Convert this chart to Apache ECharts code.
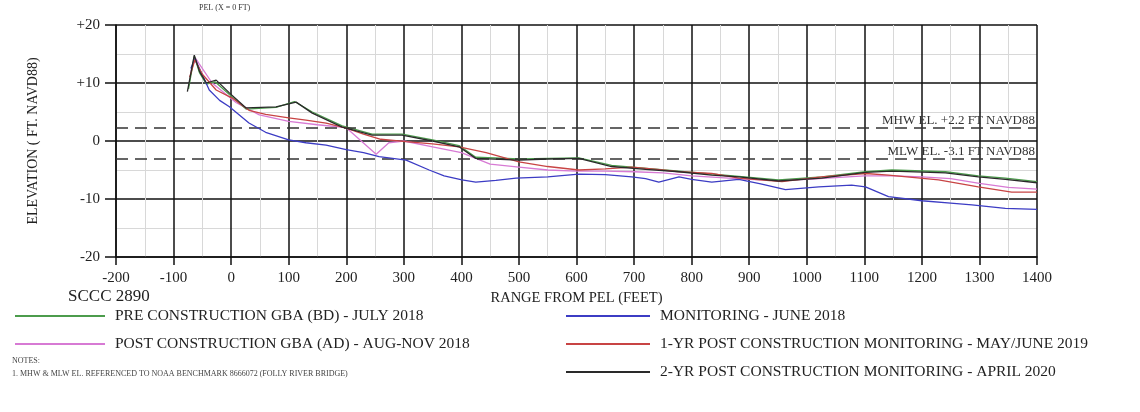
<!DOCTYPE html>
<html>
<head>
<meta charset="utf-8">
<script src="https://cdn.jsdelivr.net/npm/echarts@6/dist/echarts.min.js"></script>
<style>
  html, body { margin: 0; padding: 0; background: #fff; }
  #chart { width: 1140px; height: 412px; }
</style>
</head>
<body>
<div id="chart"></div>
<script>
// Beach profile SCCC 2890: elevation (ft NAVD88) vs range from PEL (ft)
const xTicks = [-200, 1400, 100];
const yTickLabels = { '20': '+20', '10': '+10', '0': '0', '-10': '-10', '-20': '-20' };

const preConstruction = [
  [-74, 9], [-64, 14.6], [-55, 11.8], [-43, 9.8], [-28, 10.2], [-3, 8], [26, 5.5], [78, 5.8],
  [110, 6.8], [141, 5], [193, 2.6], [245, 1.2], [297, 1.2], [350, 0.2], [396, -0.8], [425, -2.8],
  [500, -3.1], [604, -2.9], [661, -4.2], [778, -5.2], [882, -6.1], [951, -6.7], [1026, -6.2],
  [1102, -5.3], [1148, -5], [1241, -5.3], [1298, -6], [1345, -6.4], [1400, -7]
];
const postConstruction = [
  [-70, 12], [-62, 14.3], [-56, 13.4], [-33, 10], [9, 6.6], [49, 4.5], [100, 3.4], [150, 2.8],
  [200, 2.3], [252, -2.3], [274, -0.3], [300, 0], [350, -1], [400, -2], [450, -4], [500, -4.5],
  [550, -5], [600, -5.2], [650, -5.2], [700, -5.3], [750, -5.5], [800, -6], [850, -6.3], [900, -6.6],
  [950, -6.8], [1000, -6.6], [1050, -6.3], [1100, -6], [1150, -6], [1200, -6.2], [1250, -6.5],
  [1300, -7.3], [1350, -8], [1400, -8.3]
];
const monitoring2018 = [
  [-70, 12.5], [-63, 14.2], [-55, 12.5], [-38, 8.8], [-20, 7], [-3, 5.9], [31, 3.1], [60, 1.5],
  [100, 0.2], [130, -0.3], [165, -0.7], [200, -1.5], [230, -2], [257, -2.7], [304, -3.3], [344, -5],
  [370, -6], [401, -6.7], [425, -7.1], [460, -6.8], [495, -6.4], [550, -6.2], [604, -5.7], [650, -5.8],
  [696, -6.2], [720, -6.5], [743, -7.1], [778, -6.2], [800, -6.6], [835, -7.1], [882, -6.6], [920, -7.4],
  [963, -8.4], [1021, -7.9], [1078, -7.6], [1102, -7.9], [1142, -9.6], [1200, -10.3], [1250, -10.7],
  [1287, -11], [1345, -11.6], [1400, -11.8]
];
const monitoring2019 = [
  [-72, 11], [-63, 14], [-50, 11.5], [-26, 8.8], [2, 7.4], [31, 5.3], [60, 4.6], [100, 4], [130, 3.6],
  [165, 3.1], [200, 2.2], [230, 1.2], [260, 0.3], [304, -0.1], [350, -0.5], [396, -1], [443, -2],
  [500, -3.6], [550, -4.4], [604, -5], [650, -4.8], [696, -4.5], [740, -4.9], [778, -5.3], [835, -5.6],
  [882, -6.4], [957, -7], [1026, -6.2], [1102, -5.6], [1142, -5.9], [1229, -6.7], [1298, -7.9],
  [1356, -8.8], [1400, -8.8]
];
const monitoring2020 = [
  [-76, 8.5], [-64, 14.8], [-55, 12], [-43, 10], [-26, 10.5], [-3, 8.3], [26, 5.7], [78, 5.9],
  [113, 6.7], [141, 4.8], [193, 2.4], [245, 1], [297, 1], [350, 0], [396, -1], [425, -3], [500, -3.3],
  [550, -3.1], [604, -3], [661, -4.4], [720, -4.9], [778, -5.3], [835, -5.9], [882, -6.2], [951, -6.9],
  [1026, -6.4], [1102, -5.4], [1148, -5.2], [1241, -5.5], [1298, -6.2], [1345, -6.6], [1400, -7.2]
];
const tideLevels = [
  { name: 'MHW EL. +2.2 FT NAVD88', value: 2.2 },
  { name: 'MLW EL. -3.1 FT NAVD88', value: -3.1 }
];

const seriesNames = [
  'PRE CONSTRUCTION GBA (BD) - JULY 2018',
  'POST CONSTRUCTION GBA (AD) - AUG-NOV 2018',
  'MONITORING - JUNE 2018',
  '1-YR POST CONSTRUCTION MONITORING - MAY/JUNE 2019',
  '2-YR POST CONSTRUCTION MONITORING - APRIL 2020'
];

const FONT = '"Liberation Serif", "DejaVu Serif", serif';
const chart = echarts.init(document.getElementById('chart'), null, { renderer: 'canvas' });

function lineSeries(name, data, color, z, extra) {
  return Object.assign({
    type: 'line', name: name, data: data, symbol: 'none', z: z,
    lineStyle: { color: color, width: 1.3 }, itemStyle: { color: color },
    animation: false
  }, extra || {});
}

const legendText = { fontFamily: FONT, fontSize: 15.5, color: '#222', lineHeight: 14, padding: [0, 0, 0, 5] };

chart.setOption({
  backgroundColor: '#fff',
  animation: false,
  grid: { left: 116, right: 103, top: 25, bottom: 155 },
  legend: [
    {
      data: [seriesNames[0], seriesNames[1]],
      orient: 'vertical', left: 10, top: 303, itemWidth: 90, itemHeight: 2,
      itemGap: 12, icon: 'rect', textStyle: legendText, selectedMode: false
    },
    {
      data: [seriesNames[2], seriesNames[3], seriesNames[4]],
      orient: 'vertical', left: 561, top: 303, itemWidth: 84, itemHeight: 2,
      itemGap: 12, icon: 'rect', textStyle: legendText, selectedMode: false
    }
  ],
  xAxis: {
    type: 'value', min: xTicks[0], max: xTicks[1], interval: xTicks[2],
    name: 'RANGE FROM PEL (FEET)', nameLocation: 'middle', nameGap: 30,
    nameTextStyle: { fontFamily: FONT, fontSize: 14.5, color: '#222' },
    axisLine: { show: true, onZero: false, lineStyle: { color: '#111', width: 1.5 } },
    axisTick: { show: true, length: 8, inside: false, lineStyle: { color: '#111', width: 1.5 } },
    axisLabel: { fontFamily: FONT, fontSize: 15, color: '#222', margin: 14, formatter: v => String(v) },
    splitLine: { show: true, lineStyle: { color: '#111', width: 1.5 } },
    minorTick: { show: false, splitNumber: 2 },
    minorSplitLine: { show: true, lineStyle: { color: '#d8d8d8', width: 1 } }
  },
  yAxis: {
    type: 'value', min: -20, max: 20, interval: 10,
    name: 'ELEVATION ( FT. NAVD88)', nameLocation: 'middle', nameGap: 76, nameRotate: 90,
    nameTextStyle: { fontFamily: FONT, fontSize: 14, color: '#222' },
    axisLine: { show: true, onZero: false, lineStyle: { color: '#111', width: 1.5 } },
    axisTick: { show: true, length: 11, inside: false, lineStyle: { color: '#111', width: 1.5 } },
    axisLabel: {
      fontFamily: FONT, fontSize: 15, color: '#222', margin: 16,
      formatter: v => yTickLabels[String(v)] ?? String(v)
    },
    splitLine: { show: true, lineStyle: { color: '#111', width: 1.5 } },
    minorTick: { show: false, splitNumber: 2 },
    minorSplitLine: { show: true, lineStyle: { color: '#d8d8d8', width: 1 } }
  },
  series: [
    lineSeries(seriesNames[1], postConstruction, '#d77ad4', 3, {
      markLine: {
        silent: true, symbol: 'none', animation: false,
        lineStyle: { color: '#333', type: [12, 7], width: 1.5 },
        label: {
          show: true, position: 'insideEndTop', distance: [2, 1],
          fontFamily: FONT, fontSize: 13, color: '#333',
          formatter: p => p.name
        },
        data: tideLevels.map(t => ({ name: t.name, yAxis: t.value }))
      }
    }),
    lineSeries(seriesNames[0], preConstruction, '#4c9c4c', 4),
    lineSeries(seriesNames[2], monitoring2018, '#3c3cc4', 5),
    lineSeries(seriesNames[3], monitoring2019, '#c84444', 6),
    lineSeries(seriesNames[4], monitoring2020, '#2a2a2a', 7)
  ],
  graphic: [
    { type: 'text', left: 199, top: 4, style: { text: 'PEL (X = 0 FT)', font: '8px ' + FONT, fill: '#333' } },
    { type: 'text', left: 68, top: 288, style: { text: 'SCCC 2890', font: '17px ' + FONT, fill: '#222' } },
    { type: 'text', left: 12, top: 357, style: { text: 'NOTES:', font: '8px ' + FONT, fill: '#444' } },
    { type: 'text', left: 12, top: 370, style: { text: '1. MHW & MLW EL. REFERENCED TO NOAA BENCHMARK 8666072 (FOLLY RIVER BRIDGE)', font: '8px ' + FONT, fill: '#444' } }
  ]
});
</script>
</body>
</html>
